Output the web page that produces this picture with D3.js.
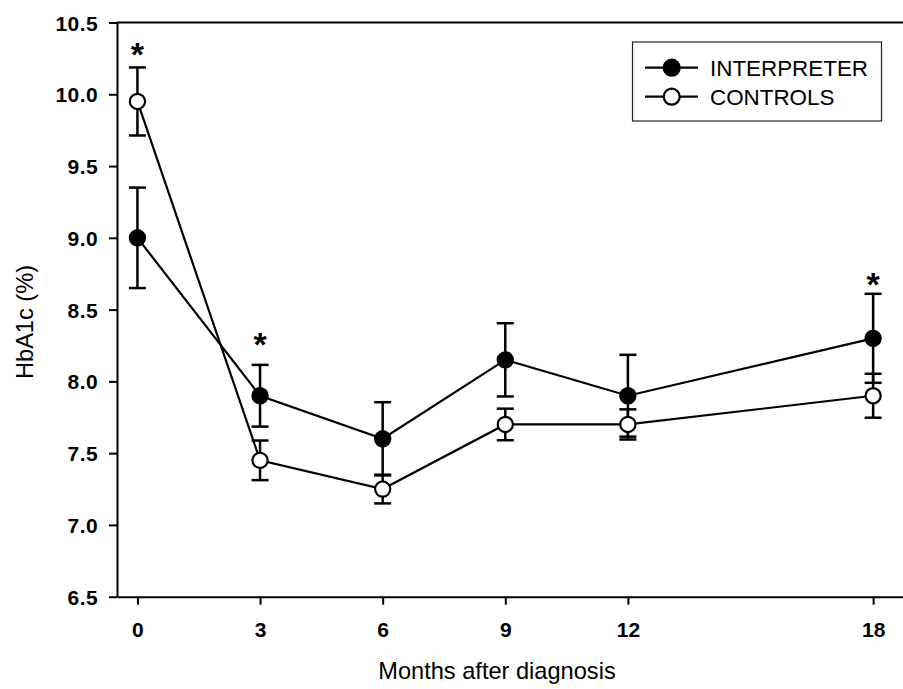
<!DOCTYPE html>
<html>
<head>
<meta charset="utf-8">
<script src="https://cdn.jsdelivr.net/npm/d3@7"></script>
<style>
  body { margin: 0; background: #fff; }
  text { font-family: Arial, "Liberation Sans", sans-serif; }
</style>
</head>
<body>
<script>
// data
var months = [0, 3, 6, 9, 12, 18];
var interpreter = [9.0, 7.9, 7.6, 8.15, 7.9, 8.3];
var interpreterSE = [0.35, 0.215, 0.255, 0.255, 0.285, 0.31];
var controls = [9.95, 7.45, 7.25, 7.7, 7.7, 7.9];
var controlsSE = [0.237, 0.138, 0.1, 0.11, 0.105, 0.153];
var seriesNames = ["INTERPRETER", "CONTROLS"];
// significance marks (month, height of star in HbA1c units)
var sigMonths = [0, 3, 18];
var sigY = [10.33, 8.31, 8.73];
var yTicks = [6.5, 7.0, 7.5, 8.0, 8.5, 9.0, 9.5, 10.0, 10.5];

var width = 903, height = 689;

var svg = d3.select("body").append("svg")
  .attr("width", width)
  .attr("height", height);

var x = d3.scaleLinear().domain([-0.5, 19]).range([117, 914]);
var y = d3.scaleLinear().domain([6.5, 10.5]).range([596.7, 22.5]);

// frame: top line (right side runs off the picture)
svg.append("line")
  .attr("x1", 117).attr("x2", 914)
  .attr("y1", y(10.5)).attr("y2", y(10.5))
  .attr("stroke", "#000").attr("stroke-width", 2);

// y axis
var yAxis = svg.append("g")
  .attr("transform", "translate(117,0)")
  .call(d3.axisLeft(y).tickValues(yTicks).tickFormat(d3.format(".1f")).tickSize(8).tickSizeOuter(0));
yAxis.select(".domain").attr("stroke-width", 2);
yAxis.selectAll(".tick line").attr("stroke-width", 2);
yAxis.selectAll(".tick text")
  .attr("x", -19)
  .attr("dy", "0.36em")
  .style("font-size", "21px")
  .style("font-weight", "bold")
  .style("letter-spacing", "0.4px")
  .attr("fill", "#000");

// x axis
var xAxis = svg.append("g")
  .attr("transform", "translate(0," + y(6.5) + ")")
  .call(d3.axisBottom(x).tickValues(months).tickFormat(d3.format("d")).tickSize(8).tickSizeOuter(0));
xAxis.select(".domain").attr("stroke-width", 2);
xAxis.selectAll(".tick line").attr("stroke-width", 2);
xAxis.selectAll(".tick text")
  .attr("y", 25)
  .attr("dy", "0.71em")
  .style("font-size", "21px")
  .style("font-weight", "bold")
  .attr("fill", "#000");

// titles
svg.append("text")
  .attr("x", 497).attr("y", 679)
  .attr("text-anchor", "middle")
  .style("font-size", "23.6px")
  .text("Months after diagnosis");

svg.append("text")
  .attr("transform", "translate(32.5,322) rotate(-90)")
  .attr("text-anchor", "middle")
  .style("font-size", "23.6px")
  .text("HbA1c (%)");

var series = [
  { name: seriesNames[0], vals: interpreter, se: interpreterSE, fill: "#000" },
  { name: seriesNames[1], vals: controls, se: controlsSE, fill: "#fff" }
];

var line = d3.line()
  .x(function(d) { return x(d.m); })
  .y(function(d) { return y(d.v); });

function pts(s) {
  return months.map(function(m, i) { return { m: m, v: s.vals[i], e: s.se[i] }; });
}

// connecting lines
series.forEach(function(s) {
  svg.append("path")
    .datum(pts(s))
    .attr("fill", "none")
    .attr("stroke", "#000")
    .attr("stroke-width", 2.2)
    .attr("d", line);
});

// error bars
series.forEach(function(s) {
  var g = svg.append("g").attr("stroke", "#000").attr("stroke-width", 2.5);
  var eb = g.selectAll(".eb").data(pts(s)).enter().append("g");
  eb.append("line")
    .attr("x1", function(d) { return x(d.m); })
    .attr("x2", function(d) { return x(d.m); })
    .attr("y1", function(d) { return y(d.v + d.e); })
    .attr("y2", function(d) { return y(d.v - d.e); });
  [1, -1].forEach(function(sign) {
    eb.append("line")
      .attr("x1", function(d) { return x(d.m) - 8.5; })
      .attr("x2", function(d) { return x(d.m) + 8.5; })
      .attr("y1", function(d) { return y(d.v + sign * d.e); })
      .attr("y2", function(d) { return y(d.v + sign * d.e); });
  });
});

// symbols
series.forEach(function(s) {
  svg.selectAll(null)
    .data(pts(s))
    .enter().append("circle")
    .attr("cx", function(d) { return x(d.m); })
    .attr("cy", function(d) { return y(d.v); })
    .attr("r", 7.6)
    .attr("fill", s.fill)
    .attr("stroke", "#000")
    .attr("stroke-width", 2.2);
});

// significance asterisks
svg.selectAll(".sig")
  .data(sigMonths)
  .enter().append("text")
  .attr("x", function(d) { return x(d); })
  .attr("y", function(d, i) { return y(sigY[i]) + 19; })
  .attr("text-anchor", "middle")
  .style("font-size", "34px")
  .style("font-weight", "bold")
  .text("*");

// legend
var legend = svg.append("g");
legend.append("rect")
  .attr("x", 632.5).attr("y", 42)
  .attr("width", 249).attr("height", 79)
  .attr("fill", "#fff")
  .attr("stroke", "#222")
  .attr("stroke-width", 1.2);

series.forEach(function(s, i) {
  var ly = 67.7 + i * 29;
  legend.append("line")
    .attr("x1", 645).attr("x2", 698)
    .attr("y1", ly).attr("y2", ly)
    .attr("stroke", "#000").attr("stroke-width", 2.2);
  legend.append("circle")
    .attr("cx", 671.7).attr("cy", ly)
    .attr("r", 8)
    .attr("fill", s.fill)
    .attr("stroke", "#000")
    .attr("stroke-width", 2.2);
  legend.append("text")
    .attr("x", 710).attr("y", ly + 8.2)
    .style("font-size", "22.4px")
    .text(s.name);
});
</script>
</body>
</html>
